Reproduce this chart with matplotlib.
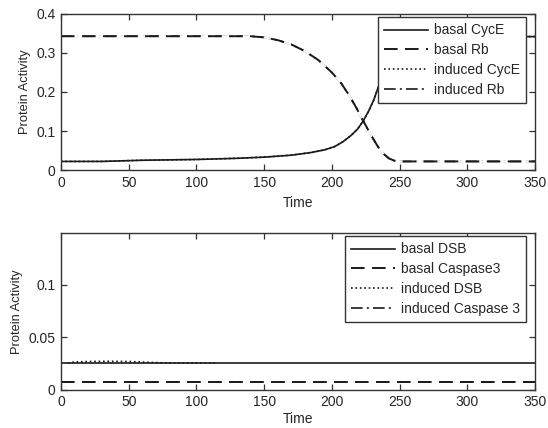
import matplotlib.pyplot as plt
import numpy as np

plt.rcParams['font.family'] = ['Liberation Sans', 'DejaVu Sans']

# top panel: CycE and Rb
t_cyce = [0, 30, 60, 100, 130, 150, 170, 185, 195, 202, 208, 214, 219, 223, 227, 231, 235, 240, 245, 250, 260, 300, 350]
cyce = [0.022, 0.022, 0.025, 0.027, 0.030, 0.033, 0.038, 0.045, 0.052, 0.060, 0.072, 0.088, 0.105, 0.125, 0.15, 0.18, 0.22, 0.26, 0.30, 0.325, 0.338, 0.342, 0.342]
t_rb = [0, 100, 140, 150, 160, 170, 180, 190, 200, 207, 213, 218, 222, 226, 230, 234, 238, 242, 246, 250, 300, 350]
rb = [0.343, 0.343, 0.343, 0.340, 0.333, 0.322, 0.305, 0.282, 0.250, 0.222, 0.190, 0.160, 0.133, 0.108, 0.083, 0.060, 0.042, 0.030, 0.024, 0.022, 0.022, 0.022]
# induced runs sit on top of the basal ones
cyce_ind = cyce
rb_ind = rb

# bottom panel: DSB and Caspase 3
t_dsb = [0, 350]
dsb = [0.0255, 0.0255]
t_dsb_ind = [5, 10, 20, 35, 50, 65, 75, 90, 115]
dsb_ind = [0.0255, 0.0265, 0.027, 0.0272, 0.027, 0.0262, 0.0257, 0.0256, 0.0256]
t_casp = [0, 350]
casp = [0.0075, 0.0075]
casp_ind = casp

top_labels = ['basal CycE', 'basal Rb', 'induced CycE', 'induced Rb']
bot_labels = ['basal DSB', 'basal Caspase3', 'induced DSB', 'induced Caspase 3']

dash = (0, (7, 3.8))
dashdot = (0, (7, 2.5, 1.2, 2.5))
ink = '0.1'

fig = plt.figure(figsize=(5.48, 4.28), dpi=100)
ax1 = fig.add_axes([0.1113, 0.6028, 0.8650, 0.3645])
ax2 = fig.add_axes([0.1113, 0.0890, 0.8650, 0.3666])

lw = 1.2
# induced first, basal drawn over them (white gaps hide the overlap)
h3, = ax1.plot(t_cyce, cyce_ind, color=ink, lw=lw, ls=':', label=top_labels[2])
h4, = ax1.plot(t_rb, rb_ind, color=ink, lw=lw, ls=dashdot, label=top_labels[3])
h2, = ax1.plot(t_rb, rb, color=ink, lw=lw + 0.2, ls=dash, gapcolor='white', label=top_labels[1])
h1, = ax1.plot(t_cyce, cyce, color=ink, lw=lw, ls='-', label=top_labels[0])
ax1.set_ylim(0, 0.4)
ax1.set_yticks([0, 0.1, 0.2, 0.3, 0.4])
ax1.set_yticklabels(['0', '0.1', '0.2', '0.3', '0.4'])
top_handles = [h1, h2, h3, h4]

g4, = ax2.plot(t_casp, casp_ind, color=ink, lw=lw, ls=dashdot, label=bot_labels[3])
g2, = ax2.plot(t_casp, casp, color=ink, lw=lw + 0.2, ls=dash, gapcolor='white', label=bot_labels[1])
g1, = ax2.plot(t_dsb, dsb, color=ink, lw=lw, ls='-', label=bot_labels[0])
g3, = ax2.plot(t_dsb_ind, dsb_ind, color=ink, lw=lw, ls=':', label=bot_labels[2])
ax2.set_ylim(0, 0.149)
ax2.set_yticks([0, 0.05, 0.1])
ax2.set_yticklabels(['0', '0.05', '0.1'])
bot_handles = [g1, g2, g3, g4]

for ax, hs, lp in ((ax1, top_handles, 4.5), (ax2, bot_handles, 1.5)):
    ax.set_xlim(0, 350)
    ax.set_xticks(np.arange(0, 351, 50))
    ax.tick_params(direction='in', top=True, right=True, labelsize=10, length=4,
                   width=0.9, pad=4, color='0.2', labelcolor='0.15')
    for s in ax.spines.values():
        s.set_linewidth(1.0)
        s.set_color('0.2')
    ax.set_xlabel('Time', fontsize=10, labelpad=lp, color='0.15')
    ax.set_ylabel('Protein Activity', fontsize=9.3, labelpad=4, color='0.15')
    leg = ax.legend(handles=hs, loc='upper right', bbox_to_anchor=(0.981, 0.98),
                    fontsize=10, frameon=True, fancybox=False,
                    edgecolor='0.2', framealpha=1, handlelength=3.1, handletextpad=0.45,
                    borderaxespad=0, labelspacing=0.42, borderpad=0.45)
    leg.get_frame().set_linewidth(1.0)
    for txt in leg.get_texts():
        txt.set_color('0.15')

fig.savefig('out.png', dpi=100)
